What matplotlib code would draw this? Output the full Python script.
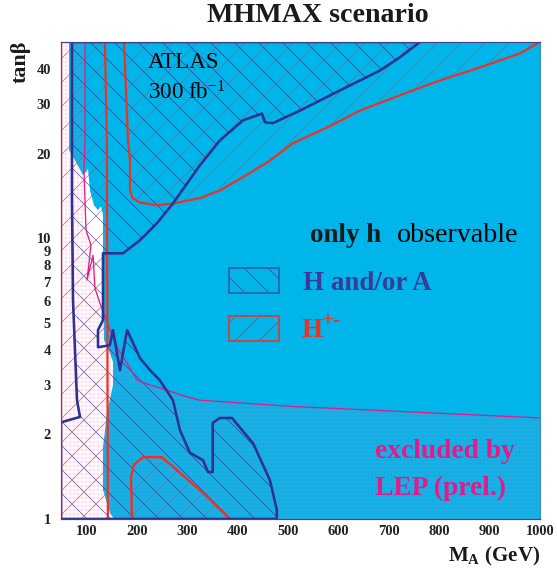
import matplotlib
matplotlib.use('Agg')
import matplotlib.pyplot as plt

plt.rcParams['font.family'] = ['Liberation Serif', 'DejaVu Serif']
plt.rcParams['mathtext.fontset'] = 'custom'
plt.rcParams['mathtext.rm'] = 'Liberation Serif'
plt.rcParams['mathtext.bf'] = 'Liberation Serif:bold'
plt.rcParams['mathtext.it'] = 'Liberation Serif:italic'
plt.rcParams['hatch.linewidth'] = 0.8

# ---------------- data (M_A in GeV, tan beta) ----------------
x_ticks = [100, 200, 300, 400, 500, 600, 700, 800, 900, 1000]
y_ticks = [1, 2, 3, 4, 5, 6, 7, 8, 9, 10, 20, 30, 40]

# LEP excluded (white) region
lep_white_x = [50, 50, 65.9, 65.9, 77.8, 93.6, 99.6, 103.5, 107.5, 115.4, 123.4, 129.3,
               133.3, 133.3, 135.3, 147.2, 153.1, 153.1, 141.2, 133.3, 133.3, 147.2, 155.1]
lep_white_y = [1, 50, 50, 20.6, 18.95, 16.8, 17.2, 17.7, 14.8, 13.1, 12.6, 13.0,
               12.1, 7.09, 4.34, 3.90, 3.62, 3.0, 2.38, 1.80, 1.27, 1.05, 1.0]

# LEP (prel.) boundary line
lep_line_x = [97.6, 97.6, 95.6, 97.6, 99.6, 109.5, 101.6, 113.5, 117.4, 127.3, 137.3, 147.2,
              161, 180.9, 200.7, 226.5, 246.3, 300, 325.6, 504, 1000]
lep_line_y = [50, 22.3, 17.5, 13.65, 10.7, 9.44, 7.09, 8.70, 6.64, 5.87, 5.24, 4.71,
              4.09, 3.59, 3.12, 3.0, 2.93, 2.72, 2.65, 2.52, 2.29]

# H and/or A discovery region boundary
ha_x = [71.8, 71.8, 73.8, 81.7, 87.7, 50, 50, 478, 478, 464, 431, 389, 365, 351, 351, 341.5,
        331.6, 305.8, 286, 272, 246, 226.5, 206.7, 181, 167, 153, 147, 123.4, 123.4, 133.3,
        133.3, 173, 206.7, 240, 272, 325.6, 365, 411, 448.6, 454.5, 470, 524, 603, 683, 722, 762]
ha_y = [50, 13.65, 6.02, 2.65, 2.31, 2.21, 1, 1, 1.08, 1.38, 1.86, 2.29, 2.29, 2.20, 1.47, 1.47,
        1.62, 1.72, 2.07, 2.65, 3.12, 3.39, 3.74, 4.71, 3.39, 4.71, 4.16, 4.09, 4.71, 5.11,
        8.84, 8.84, 9.84, 11.3, 13.3, 18.2, 22.3, 26.3, 27.8, 25.9, 25.7, 28.5, 33.6, 39.6, 44.1, 50]

# H+- discovery regions
hpm_left_x = [50, 50, 137, 141, 143]
hpm_left_y = [1, 50, 50, 22, 1]
hpm_top_x = [175, 182.9, 186.8, 186.8, 192, 206.7, 240, 272, 325.6, 365.3, 410.9, 458.5,
             510, 577.5, 643, 722, 801.6, 881, 960, 1000]
hpm_top_y = [50, 22.3, 18.9, 14.8, 13.9, 13.4, 13.1, 13.3, 13.9, 14.8, 16.5, 18.6,
             21.8, 24.8, 28.5, 32.3, 36.5, 40.6, 45.5, 50]
hpm_low_x = [190.8, 188.8, 194.7, 212.6, 250.3, 286, 331.6, 385]
hpm_low_y = [1, 1.41, 1.56, 1.66, 1.66, 1.46, 1.24, 1]

# ---------------- styles ----------------
CYAN = '#00b5ea'
NAVY = '#2e3192'
RED = '#ee3124'
MAG = '#e5198a'
HATCH_BLUE = (0.15, 0.2, 0.55, 0.7)
HATCH_RED = (0.8, 0.3, 0.35, 0.75)
HATCH_PINK = (0.95, 0.45, 0.7, 0.4)

fig = plt.figure(figsize=(557 / 72, 568 / 72), dpi=72)
ax = fig.add_axes([61 / 557, 49 / 568, 479 / 557, 477 / 568])
ax.set_yscale('log')
ax.set_xlim(50, 1000)
ax.set_ylim(1, 50)
ax.set_facecolor(CYAN)


def hatch_fill(xs, ys, hatch, color, z, lw=0.8):
    p = ax.fill(xs, ys, facecolor='none', edgecolor=color, hatch=hatch,
                linewidth=0, zorder=z)[0]
    try:
        p.set_hatch_linewidth(lw)
    except AttributeError:
        pass
    return p


# LEP white background
ax.fill(lep_white_x, lep_white_y, color='white', linewidth=0, zorder=1)
# LEP fine grid below the LEP line
grid_x = lep_line_x + [1000, 50, 50]
grid_y = lep_line_y + [1, 1, 50]
hatch_fill(grid_x, grid_y, '+++', HATCH_PINK, 2, lw=0.5)

# hatched discovery regions
hatch_fill(ha_x, ha_y, '\\', HATCH_BLUE, 3)
hatch_fill(hpm_left_x, hpm_left_y, '/', HATCH_RED, 3)
hatch_fill(hpm_top_x + [1000], hpm_top_y + [50], '/', HATCH_RED, 3)
hatch_fill(hpm_low_x, hpm_low_y, '/', HATCH_RED, 3)

# boundary lines
ax.plot(lep_line_x, lep_line_y, color=MAG, lw=1.3, zorder=4)
ax.plot(hpm_left_x, hpm_left_y, color=RED, lw=2.2, zorder=5)
ax.plot(hpm_top_x, hpm_top_y, color=RED, lw=2.2, zorder=5)
ax.plot(hpm_low_x, hpm_low_y, color=RED, lw=2.4, zorder=5)
ax.plot(ha_x + [ha_x[0]], ha_y + [ha_y[0]], color=NAVY, lw=2.6, zorder=6,
        solid_joinstyle='round')

# axes & ticks
ax.set_xticks(x_ticks)
ax.set_xticklabels([str(v) for v in x_ticks])
ax.set_yticks(y_ticks)
ax.set_yticklabels([str(v) for v in y_ticks])
ax.minorticks_off()
ax.tick_params(axis='both', length=0)
ax.tick_params(axis='x', pad=6, labelsize=14.5)
ax.tick_params(axis='y', pad=10, labelsize=14.5)
for lab in ax.get_xticklabels() + ax.get_yticklabels():
    lab.set_fontweight('bold')
    lab.set_color('#222222')
for side, c in [('top', '#4b3f8f'), ('bottom', '#4b3f8f'), ('right', '#3f8f9f'), ('left', '#a03040')]:
    ax.spines[side].set_color(c)
    ax.spines[side].set_linewidth(1.2)
    ax.spines[side].set_zorder(7)

# legend boxes
r1 = plt.Rectangle((0.351, 0.474), 0.104, 0.052, transform=ax.transAxes, facecolor='none',
                   edgecolor='#2e5aa8', hatch='\\', lw=1.6, zorder=8)
r2 = plt.Rectangle((0.351, 0.373), 0.104, 0.052, transform=ax.transAxes, facecolor='none',
                   edgecolor=RED, hatch='/', lw=1.6, zorder=8)
ax.add_patch(r1)
ax.add_patch(r2)

# texts
ax.text(0.182, 0.956, 'ATLAS', transform=ax.transAxes, fontsize=23, va='center', zorder=9)
ax.text(0.182, 0.893, '300 fb$^{-1}$', transform=ax.transAxes, fontsize=23, va='center', zorder=9)
ax.text(0.520, 0.581, 'only h', transform=ax.transAxes, fontsize=27, fontweight='bold',
        color='#1a1a1a', va='baseline', zorder=9)
ax.text(0.702, 0.581, 'observable', transform=ax.transAxes, fontsize=28, color='black',
        va='baseline', zorder=9)
ax.text(0.505, 0.480, 'H and/or A', transform=ax.transAxes, fontsize=27, fontweight='bold',
        color='#3a3a9a', va='baseline', zorder=9)
ax.text(0.503, 0.382, 'H', transform=ax.transAxes, fontsize=27, fontweight='bold',
        color=RED, va='baseline', zorder=9)
ax.text(0.545, 0.415, '+-', transform=ax.transAxes, fontsize=21, fontweight='bold',
        color=RED, va='center', zorder=9)
ax.text(0.6555, 0.128, 'excluded by', transform=ax.transAxes, fontsize=27.5, fontweight='bold',
        color=MAG, va='baseline', zorder=9)
ax.text(0.6555, 0.050, 'LEP (prel.)', transform=ax.transAxes, fontsize=27.5, fontweight='bold',
        color=MAG, va='baseline', zorder=9)

fig.text(318 / 557, 1 - 16 / 568, 'MHMAX scenario', fontsize=28, fontweight='bold',
         ha='center', va='center', color='#1a1a1a')
fig.text(540 / 557, 1 - 556 / 568, r'M$_{\mathbf{A}}$ (GeV)', fontsize=21, fontweight='bold',
         ha='right', va='center', color='#1a1a1a')
fig.text(21 / 557, 1 - 62 / 568, 'tanβ', fontsize=22, fontweight='bold', rotation=90,
         ha='center', va='center', color='#1a1a1a')

fig.savefig('out.png', dpi=72)
